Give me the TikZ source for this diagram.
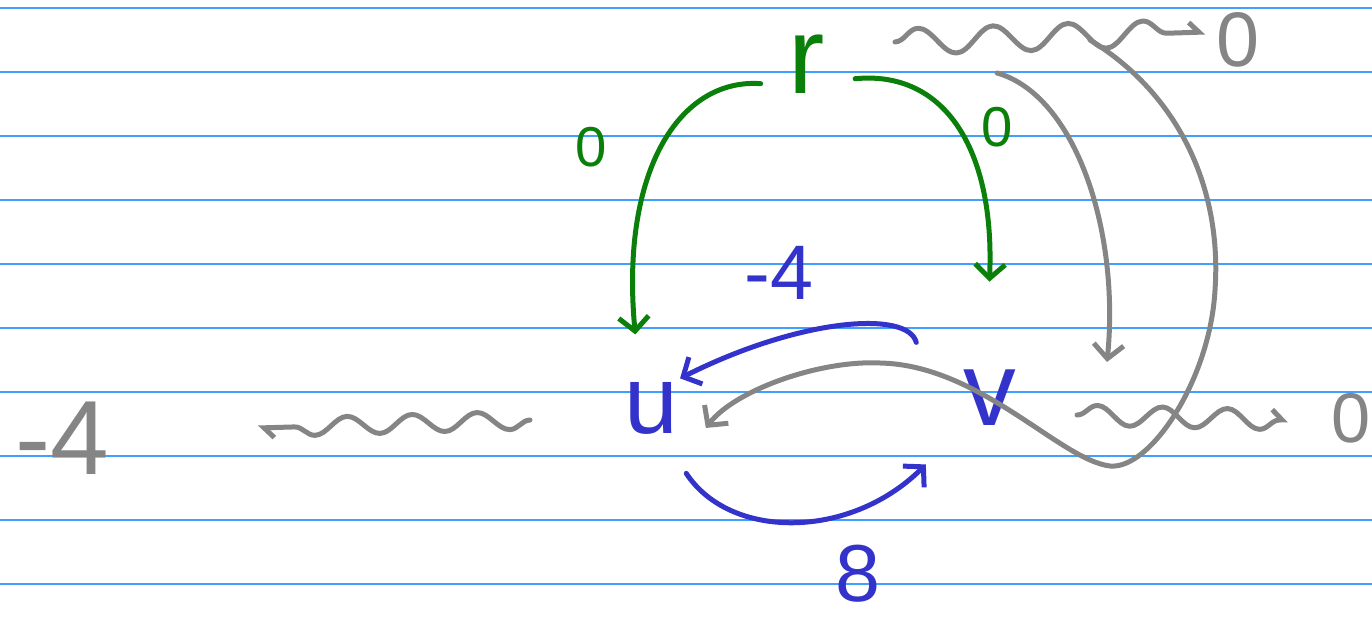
\documentclass[tikz,border=0pt]{standalone}
\usepackage{fontspec}
\setmainfont{Liberation Sans}
\usetikzlibrary{arrows.meta,decorations.pathmorphing}
\definecolor{ruleblue}{HTML}{3FA0FF}
\definecolor{pgreen}{HTML}{0A7F0A}
\definecolor{pblue}{HTML}{3333CC}
\definecolor{pgray}{HTML}{858585}

\begin{document}
\begin{tikzpicture}[x=0.2mm,y=-0.2mm,>={Straight Barb[length=2.8mm,width=6mm]}]
\tikzset{
  ruled/.style={draw=ruleblue,line width=0.35mm},
  pen/.style={line width=1mm,line cap=round,line join=round},
  vertex/.style={circle,inner sep=0pt},
  tag/.style={inner sep=1pt},
  hook/.style={-{Straight Barb[left,length=2mm,width=4mm]}}
}
\useasboundingbox (0,0) rectangle (1372,623);

% ruled paper
\foreach \y in {8,72,...,584}{
  \draw[ruled] (0,\y) -- (1372,\y);
}

\node[vertex,minimum size=20mm,text=pgreen,font=\fontsize{62}{62}\selectfont] (r) at (807,64) {r};
\node[vertex,minimum size=23.2mm,text=pblue,font=\fontsize{55}{55}\selectfont] (u) at (651,408) {u};
\node[vertex,minimum size=36.8mm,text=pblue,font=\fontsize{60}{60}\selectfont] (v) at (990,398) {v};

\node[tag,text=pgray,font=\fontsize{60}{60}\selectfont] (dl) at (62,438) {-4};
\node[tag,text=pgray,font=\fontsize{44}{44}\selectfont] (zt) at (1238,40) {0};
\node[tag,text=pgray,font=\fontsize{40}{40}\selectfont] (zr) at (1351,418) {0};
\node[tag,text=pgreen,font=\fontsize{32}{32}\selectfont] (gl) at (591,147) {0};
\node[tag,text=pgreen,font=\fontsize{32}{32}\selectfont] (gr) at (997,127) {0};
\node[tag,text=pblue,font=\fontsize{44}{44}\selectfont] (bm) at (779,273) {-4};
\node[tag,text=pblue,font=\fontsize{46}{46}\selectfont] (be) at (858,574) {8};

% wavy strokes
\coordinate (wl-s) at (530,420);
\coordinate (wl-e) at (258,428);
\coordinate (wt-s) at (895,42);
\coordinate (wt-e) at (1205,32);
\coordinate (wr-s) at (1077,415);
\coordinate (wr-e) at (1288,420);
\coordinate (wmid) at (1090,40);
\draw[pen,pgray,hook,decorate,decoration={snake,amplitude=1.8mm,segment length=13mm,post length=1.5mm}] (wl-s) -- (wl-e);
\draw[pen,pgray,hook,decorate,decoration={snake,amplitude=2.6mm,segment length=15mm,post length=1.5mm}] (wt-s) -- (wt-e);
\draw[pen,pgray,hook,decorate,decoration={snake,amplitude=2mm,segment length=13mm,post length=1.5mm}] (wr-s) -- (wr-e);

% green edges out of r
\draw[pen,pgreen,->,shorten >=3.4mm] (r.203) .. controls (680,78) and (620,170) .. (u.104);
\draw[pen,pgreen,->,shorten >=4.8mm] (r.-17) .. controls (945,70) and (995,150) .. (v.91);

% blue edges between u and v
\draw[pen,pblue,->,shorten >=-3.5mm] (v.143) .. controls (908,310) and (800,318) .. (u.40);
\draw[pen,pblue,->,shorten <=3.2mm] (u.-63) .. controls (730,540) and (850,540) .. (v.226);

% gray strokes
\coordinate (cs) at (997,73);
\coordinate (ce) at (1107,362);
\draw[pen,pgray,->] (cs) .. controls (1075,95) and (1120,230) .. (ce);
\draw[pen,pgray,->] (wmid) .. controls (1180,95) and (1222,190) .. (1215,290)
  .. controls (1210,380) and (1150,470) .. (1110,466)
  .. controls (1060,460) and (980,365) .. (880,363)
  .. controls (820,360) and (735,390) .. (u.-20);
\end{tikzpicture}
\end{document}
